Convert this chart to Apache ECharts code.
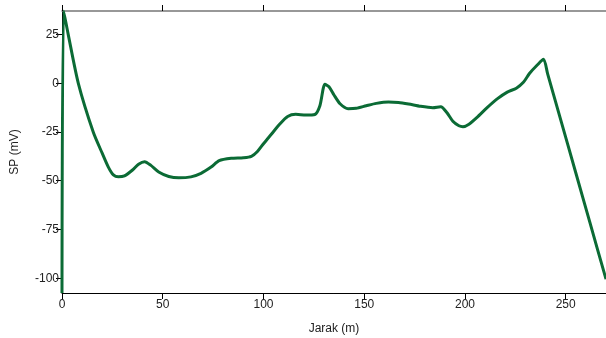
<!DOCTYPE html>
<html>
<head>
<meta charset="utf-8">
<script src="https://cdn.jsdelivr.net/npm/echarts@6/dist/echarts.min.js"></script>
<style>
  html, body { margin: 0; padding: 0; background: #fff; }
  #container { width: 606px; height: 338px; }
</style>
</head>
<body>
<div id="container"></div>
<script>
// jarak (m) dan SP (mV)
var jarak = [0, 0.8, 3.1, 8.1, 15.5, 20, 23, 25.5, 28, 31, 35, 38, 41, 44, 48, 53, 58, 64, 69, 74, 78, 84, 90, 94, 97, 100,
  104, 108, 112, 116, 121, 125.5, 128, 130.5, 132.5, 135, 138, 142, 146, 151, 156, 162, 167, 172, 178, 184, 188, 191,
  194, 197, 199, 202, 206, 211, 216, 221, 225.5, 229, 232, 236, 239, 241, 247, 255, 262, 270];
var sp = [-107.6, 37.1, 25, 0, -25, -36, -43, -47, -48, -47.5, -44.5, -41.5, -40.2, -42, -45.5, -47.8, -48.5, -48, -46.2, -43,
  -39.7, -38.5, -38.2, -37.5, -35, -31, -26, -21, -17, -15.9, -16.3, -16, -11.5, -0.5, -1.8, -6, -10.5, -13, -12.8, -11.5,
  -10.3, -9.6, -9.8, -10.6, -11.8, -12.5, -12, -15, -19.5, -21.8, -22.3, -21, -17.5, -12.5, -8, -4.5, -2.5, 0.5, 5, 9.5,
  12.3, 5, -16.8, -45.9, -71.4, -100.5];
var yTicks = [-100, -75, -50, -25, 0, 25];

var points = [];
for (var i = 0; i < jarak.length; i++) {
  points.push([jarak[i], sp[i]]);
}

var myChart = echarts.init(document.getElementById('container'));
var labelFont = { color: '#222', fontSize: 12, fontFamily: 'Liberation Sans' };
var option = {
  animation: false,
  grid: { left: 62, right: 0, top: 11, bottom: 45, containLabel: false, outerBoundsMode: 'none' },
  xAxis: [{
    type: 'value',
    position: 'bottom',
    min: 0, max: 270, interval: 50,
    name: 'Jarak (m)',
    nameLocation: 'middle',
    nameGap: 30,
    nameTextStyle: labelFont,
    axisLine: { onZero: false, lineStyle: { color: '#000', width: 1 } },
    axisTick: { length: 6, lineStyle: { color: '#000' } },
    axisLabel: Object.assign({ margin: 6, showMaxLabel: false }, labelFont),
    splitLine: { show: false }
  }, {
    type: 'value',
    position: 'top',
    min: 0, max: 270, interval: 50,
    axisLine: { onZero: false, lineStyle: { color: '#777', width: 1.5 } },
    axisTick: { length: 6, lineStyle: { color: '#000' } },
    axisLabel: { show: false },
    splitLine: { show: false }
  }],
  yAxis: {
    type: 'value',
    min: -107.6, max: 37.1,
    name: 'SP (mV)',
    nameLocation: 'middle',
    nameGap: 41,
    nameTextStyle: labelFont,
    axisLine: { onZero: false, lineStyle: { color: '#000', width: 1 } },
    axisTick: { length: 6, customValues: yTicks, lineStyle: { color: '#000' } },
    axisLabel: Object.assign({ margin: 3, customValues: yTicks }, labelFont),
    splitLine: { show: false }
  },
  series: [{
    type: 'line',
    data: points,
    showSymbol: false,
    smooth: 0.25,
    clip: true,
    lineStyle: { color: '#0b6b35', width: 3 }
  }]
};
myChart.setOption(option);
</script>
</body>
</html>
